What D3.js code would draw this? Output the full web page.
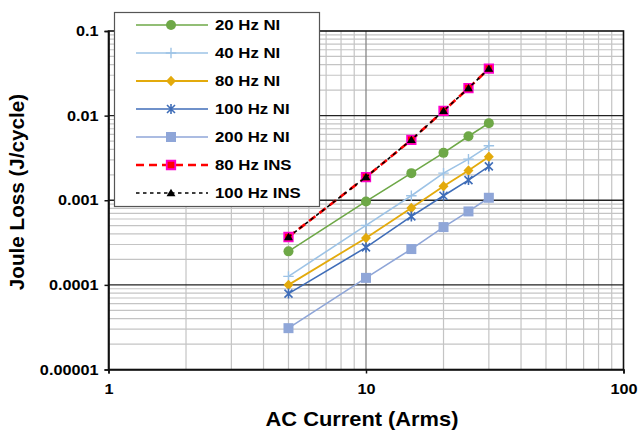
<!DOCTYPE html>
<html><head><meta charset="utf-8">
<script src="https://cdn.jsdelivr.net/npm/d3@7"></script>
<style>
body{margin:0;background:#fff}
svg{display:block}
text{font-family:"Liberation Sans",Arial,Helvetica,sans-serif;font-weight:bold;fill:#000}
</style>
</head><body>
<svg id="chart" width="638" height="431"></svg>
<script>
// ---- data ----
const currentArms = [5, 10, 15, 20, 25, 30];
const seriesNames = ["20 Hz NI", "40 Hz NI", "80 Hz NI", "100 Hz NI", "200 Hz NI", "80 Hz INS", "100 Hz INS"];
const loss20HzNI  = [0.000249, 0.000968, 0.00209, 0.00363, 0.00571, 0.00815];
const loss40HzNI  = [0.000126, 0.000505, 0.00113, 0.00209, 0.00306, 0.00440];
const loss80HzNI  = [0.000100, 0.000358, 0.000809, 0.00146, 0.00225, 0.00326];
const loss100HzNI = [0.0000789, 0.000277, 0.000644, 0.00113, 0.00173, 0.00251];
const loss200HzNI = [0.0000308, 0.000121, 0.000265, 0.000482, 0.000738, 0.00107];
const loss80HzINS = [0.000368, 0.00188, 0.00517, 0.01137, 0.0211, 0.0359];
const loss100HzINS= [0.000368, 0.00188, 0.00517, 0.01137, 0.0211, 0.0359];
const xTickValues = [1, 10, 100];
const xTickLabels = ["1", "10", "100"];
const yTickValues = [0.1, 0.01, 0.001, 0.0001, 0.00001];
const yTickLabels = ["0.1", "0.01", "0.001", "0.0001", "0.00001"];
const xTitle = "AC Current (Arms)";
const yTitle = "Joule Loss (J/cycle)";

// ---- styles ----
const STRETCH = 1.12;
const seriesData = [loss20HzNI, loss40HzNI, loss80HzNI, loss100HzNI, loss200HzNI, loss80HzINS, loss100HzINS];
const styles = [
  {color:"#6EA847", width:1.6, dash:null, marker:"circle", fill:"#6EA847", stroke:"none"},
  {color:"#9DC3E6", width:1.6, dash:null, marker:"plus", fill:"none", stroke:"#9DC3E6"},
  {color:"#E3AA0C", width:1.8, dash:null, marker:"diamond", fill:"#E3AA0C", stroke:"none"},
  {color:"#3F6DB8", width:1.6, dash:null, marker:"asterisk", fill:"none", stroke:"#3F6DB8"},
  {color:"#8FA6D8", width:1.6, dash:null, marker:"square", fill:"#8FA6D8", stroke:"none"},
  {color:"#FF0000", width:2.6, dash:"8,5", marker:"squareIns", fill:"#FF0000", stroke:"#FF00CC"},
  {color:"#000000", width:1.6, dash:"3.5,3.5", marker:"triangle", fill:"#000", stroke:"none"}
];

// custom marker shapes
const sym = {
  circle:{draw(c,s){const r=Math.sqrt(s)/2;c.moveTo(r,0);c.arc(0,0,r,0,2*Math.PI);}},
  plus:{draw(c,s){const r=Math.sqrt(s)/2;c.moveTo(-r,0);c.lineTo(r,0);c.moveTo(0,-r);c.lineTo(0,r);}},
  diamond:{draw(c,s){const r=Math.sqrt(s)/2;c.moveTo(0,-r);c.lineTo(r*0.95,0);c.lineTo(0,r);c.lineTo(-r*0.95,0);c.closePath();}},
  asterisk:{draw(c,s){const r=Math.sqrt(s)/2;const d=r*0.8;c.moveTo(-d,-d);c.lineTo(d,d);c.moveTo(-d,d);c.lineTo(d,-d);c.moveTo(0,-r);c.lineTo(0,r);}},
  square:{draw(c,s){const r=Math.sqrt(s)/2;c.rect(-r,-r,2*r,2*r);}},
  squareIns:{draw(c,s){const r=Math.sqrt(s)/2;c.rect(-r,-r,2*r,2*r);}},
  triangle:{draw(c,s){const r=Math.sqrt(s)/2;c.moveTo(0,-r);c.lineTo(r*1.05,r*0.75);c.lineTo(-r*1.05,r*0.75);c.closePath();}}
};
const symSize = {circle:100, plus:110, diamond:110, asterisk:100, square:100, squareIns:72, triangle:72};
const symStrokeW = {circle:0, plus:1.4, diamond:0, asterisk:1.6, square:0, squareIns:1.8, triangle:0};

const svg = d3.select("#chart");
const x = d3.scaleLog().domain([1, 100]).range([108.5, 623.5]);
const y = d3.scaleLog().domain([0.00001, 0.1]).range([369.5, 31]);

// ---- grid ----
const minorX = [], minorY = [];
for (let d = 1; d < 100; d *= 10) for (let k = 2; k <= 9; k++) minorX.push(d * k);
for (let d = 0.00001; d < 0.1; d *= 10) for (let k = 2; k <= 9; k++) minorY.push(d * k);
const grid = svg.append("g");
grid.selectAll(".mx").data(minorX).join("line")
  .attr("x1", d => x(d)).attr("x2", d => x(d)).attr("y1", y.range()[0]).attr("y2", y.range()[1])
  .attr("stroke", "#c4c4c4").attr("stroke-width", 1.2);
grid.selectAll(".my").data(minorY).join("line")
  .attr("y1", d => y(d)).attr("y2", d => y(d)).attr("x1", x.range()[0]).attr("x2", x.range()[1])
  .attr("stroke", "#c4c4c4").attr("stroke-width", 1.2);
grid.selectAll(".Mx").data([10]).join("line")
  .attr("x1", d => x(d)).attr("x2", d => x(d)).attr("y1", y.range()[0]).attr("y2", y.range()[1])
  .attr("stroke", "#888").attr("stroke-width", 1.3);
grid.selectAll(".My").data([0.0001, 0.001, 0.01]).join("line")
  .attr("y1", d => y(d)).attr("y2", d => y(d)).attr("x1", x.range()[0]).attr("x2", x.range()[1])
  .attr("stroke", "#222").attr("stroke-width", 1.4);

// plot frame
svg.append("rect").attr("x", x.range()[0]).attr("y", y.range()[1])
  .attr("width", x.range()[1]-x.range()[0]).attr("height", y.range()[0]-y.range()[1])
  .attr("fill", "none").attr("stroke", "#111").attr("stroke-width", 1.6);

function stretchText(sel){
  sel.each(function(){
    const t = d3.select(this);
    const tx = +t.attr("x") || 0, ty = +t.attr("y") || 0;
    t.attr("x", null).attr("y", null)
     .attr("transform", `translate(${tx},${ty}) scale(${STRETCH},1)`);
  });
}

// ---- axes ----
const xAxis = svg.append("g").attr("transform", `translate(0,${y.range()[0]})`)
  .call(d3.axisBottom(x).tickValues(xTickValues).tickFormat((d,i) => xTickLabels[i]).tickSize(4).tickPadding(10));
xAxis.select(".domain").attr("stroke", "#111").attr("stroke-width", 1.6);
xAxis.selectAll(".tick line").attr("stroke", "#111").attr("stroke-width", 1.5);
xAxis.selectAll("text").attr("font-size", 14.5).attr("font-family", null);
stretchText(xAxis.selectAll("text"));

const yAxis = svg.append("g").attr("transform", `translate(${x.range()[0]},0)`)
  .call(d3.axisLeft(y).tickValues(yTickValues).tickFormat((d,i) => yTickLabels[i]).tickSize(4).tickPadding(6));
yAxis.select(".domain").attr("stroke", "#111").attr("stroke-width", 1.6);
yAxis.selectAll(".tick line").attr("stroke", "#111").attr("stroke-width", 1.5);
yAxis.selectAll("text").attr("font-size", 14.5).attr("font-family", null);
stretchText(yAxis.selectAll("text"));
svg.selectAll(".tick text").attr("fill", "#000");

// titles
svg.append("text").attr("transform", `translate(362,426) scale(${STRETCH},1)`)
  .attr("text-anchor", "middle").attr("font-size", 19.5).text(xTitle);
svg.append("text").attr("transform", `translate(24,192) rotate(-90) scale(1.06,1)`)
  .attr("text-anchor", "middle").attr("font-size", 19.5).text(yTitle);

// ---- series ----
const line = d3.line().x((d,i) => x(currentArms[i])).y(d => y(d));
const plot = svg.append("g");
seriesData.forEach((vals, si) => {
  const st = styles[si];
  plot.append("path").datum(vals).attr("d", line)
    .attr("fill", "none").attr("stroke", st.color).attr("stroke-width", st.width)
    .attr("stroke-dasharray", st.dash);
  plot.selectAll(null).data(vals).join("path")
    .attr("transform", (d,i) => `translate(${x(currentArms[i])},${y(d)})`)
    .attr("d", d3.symbol().type(sym[st.marker]).size(symSize[st.marker]))
    .attr("fill", st.fill).attr("stroke", st.stroke).attr("stroke-width", symStrokeW[st.marker]);
});

// ---- legend ----
const lg = svg.append("g");
lg.append("rect").attr("x", 114.5).attr("y", 12.5).attr("width", 205).attr("height", 194)
  .attr("fill", "#fff").attr("stroke", "#555").attr("stroke-width", 1.2);
seriesNames.forEach((name, si) => {
  const st = styles[si];
  const ry = 25 + si * 28;
  lg.append("line").attr("x1", 136).attr("x2", 208).attr("y1", ry).attr("y2", ry)
    .attr("stroke", st.color).attr("stroke-width", st.width).attr("stroke-dasharray", st.dash);
  lg.append("path").attr("transform", `translate(171,${ry})`)
    .attr("d", d3.symbol().type(sym[st.marker]).size(symSize[st.marker]))
    .attr("fill", st.fill).attr("stroke", st.stroke).attr("stroke-width", symStrokeW[st.marker]);
  lg.append("text").attr("transform", `translate(215,${ry}) scale(${STRETCH},1)`)
    .attr("dy", "0.36em").attr("font-size", 15).text(name);
});
</script>
</body></html>
